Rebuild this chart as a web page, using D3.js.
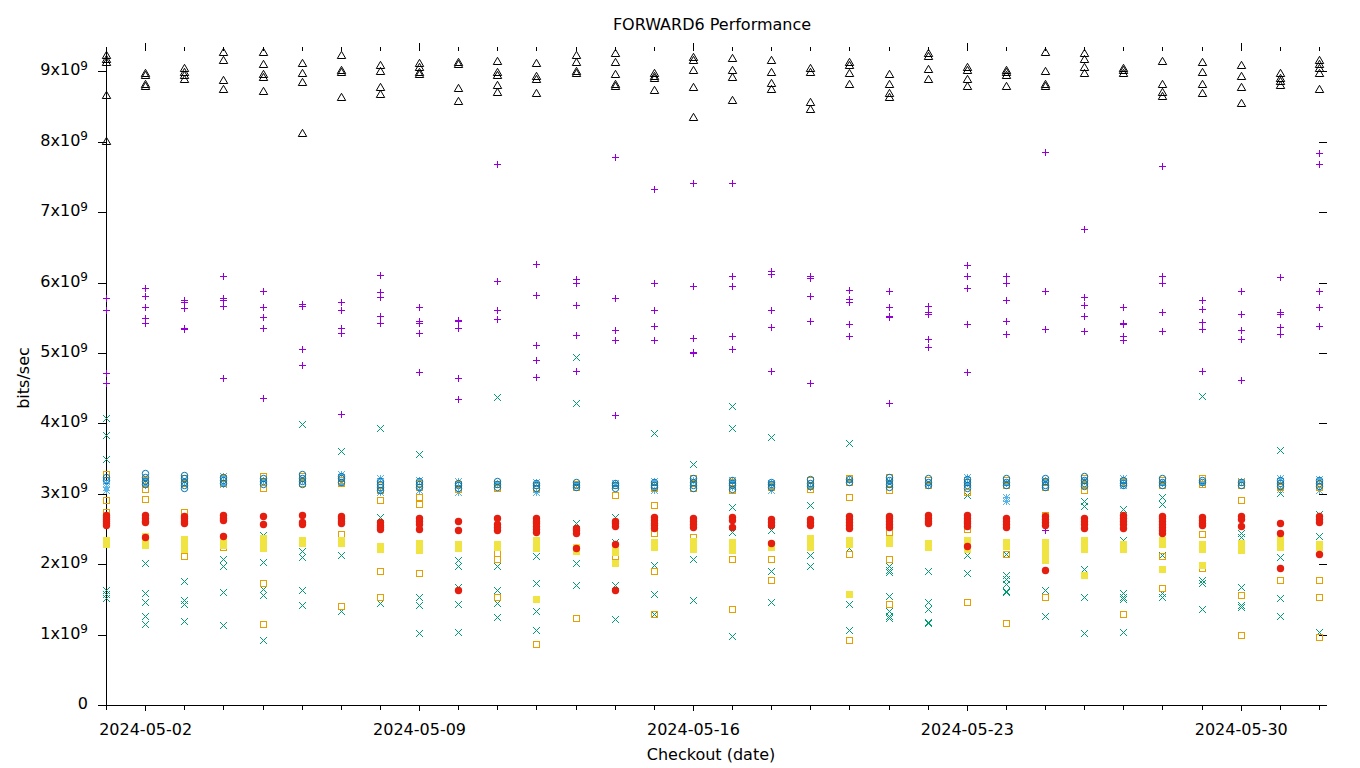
<!DOCTYPE html>
<html>
<head>
<meta charset="utf-8">
<script src="https://cdn.jsdelivr.net/npm/d3@7"></script>
<style>
  body { margin: 0; background: #fff; }
  text { font-family: "DejaVu Sans", sans-serif; fill: #000; }
</style>
</head>
<body>
<svg id="chart" width="1360" height="768"></svg>
<script>
// ---------------- data (values in units of 1e9 bits/sec) ----------------
const days = ["2024-05-01","2024-05-02","2024-05-03","2024-05-04","2024-05-05","2024-05-06","2024-05-07","2024-05-08",
  "2024-05-09","2024-05-10","2024-05-11","2024-05-12","2024-05-13","2024-05-14","2024-05-15","2024-05-16",
  "2024-05-17","2024-05-18","2024-05-19","2024-05-20","2024-05-21","2024-05-22","2024-05-23","2024-05-24",
  "2024-05-25","2024-05-26","2024-05-27","2024-05-28","2024-05-29","2024-05-30","2024-05-31","2024-06-01"];
const xTickLabels = ["2024-05-02","2024-05-09","2024-05-16","2024-05-23","2024-05-30"];
const yTickValues = [0,1,2,3,4,5,6,7,8,9];

const purplePlus = [
  [5.78,5.61,4.72,4.58],[5.93,5.81,5.65,5.50,5.43],[5.76,5.72,5.64,5.35,5.34],[6.09,5.78,5.75,5.67,4.65],
  [5.88,5.65,5.51,5.35,4.36],[5.70,5.67,5.05,4.83],[5.73,5.61,5.35,5.29,4.13],[6.11,5.87,5.80,5.53,5.42],
  [5.65,5.46,5.43,5.29,4.73],[5.47,5.45,5.35,4.65,4.34],[7.69,6.02,5.61,5.49],[6.26,5.82,5.12,4.90,4.66],
  [6.05,5.99,5.68,5.25,4.75],[7.78,5.78,5.33,5.19,4.12],[7.33,6.00,5.61,5.39,5.19],[7.42,5.95,5.22,5.01,5.00],
  [7.42,6.09,5.95,5.24,5.05],[6.16,6.12,5.61,5.37,4.75],[6.09,6.06,5.81,5.45,4.58],[5.90,5.77,5.73,5.41,5.24],
  [5.88,5.65,5.53,5.51,4.29],[5.67,5.58,5.56,5.20,5.09],[6.25,6.09,5.92,5.41,4.73],[6.10,5.99,5.75,5.45,5.27],
  [7.86,5.88,5.34,2.49],[6.76,5.79,5.68,5.52,5.31],[5.66,5.43,5.41,5.24,5.18],[7.65,6.10,5.99,5.58,5.31],
  [5.75,5.62,5.44,5.34,4.75],[5.88,5.56,5.33,5.20,4.61],[6.08,5.58,5.55,5.37,5.27],[7.84,7.69,5.88,5.66,5.38]];

const greenCross = [
  [4.07,3.83,3.49,1.64,1.58,1.52],[2.01,1.59,1.46,1.27,1.15],[1.76,1.49,1.43,1.20],[2.07,1.98,1.60,1.13],
  [2.42,2.03,1.65,1.56,0.93],[3.99,2.19,2.10,1.63,1.42],[3.61,2.13,1.33],[3.93,2.67,1.45],
  [3.56,1.54,1.42,1.02],[2.06,1.97,1.68,1.43,1.03],[4.37,1.98,1.64,1.45,1.25],[2.12,1.74,1.33,1.06],
  [4.94,4.29,2.58,2.01,1.71],[2.67,2.32,1.70,1.22],[3.87,3.05,1.99,1.57,1.29],[3.42,2.08,1.49],
  [4.25,3.93,2.81,2.46,0.98],[3.80,2.49,1.91,1.46],[2.84,2.13,1.98],[3.72,2.23,1.43,1.06],
  [1.97,1.92,1.89,1.55,1.33,1.27,1.23],[1.91,1.47,1.36,1.18,1.16],[2.98,2.13,1.88],[2.15,1.84,1.79,1.72,1.62,1.60],
  [1.63,1.27],[2.90,2.83,1.93,1.53,1.02],[2.79,2.34,1.59,1.54,1.50,1.03],[2.95,2.86,2.13,1.59,1.54],
  [4.39,1.78,1.74,1.37],[2.44,2.39,1.68,1.42,1.39],[3.62,3.01,2.10,1.52,1.26],[3.05,2.72,2.40,2.20,1.04]];

const lightBlueStar = [
  [3.15,3.10,3.05],[3.20,3.12],[3.18],[3.25,3.14],[3.20],[3.20],[3.28,3.15],[3.22,3.03],
  [3.20,3.05],[3.18,3.03],[3.15],[3.17,3.02],[3.14],[3.16],[3.18,3.06],[3.20],
  [3.19,3.10],[3.15,3.05],[3.10],[3.19],[3.18],[3.14],[3.24,3.15],[3.15,2.95,2.90],
  [3.20],[3.18],[3.23,3.13],[3.16],[3.15],[3.18],[3.23,3.07],[3.21,3.06]];

const orangeSquare = [
  [3.28,2.91,2.74],[3.20,3.15,3.07,2.92],[3.22,3.16,2.74,2.11],[3.22,3.16,2.25],
  [3.25,3.17,3.08,1.74,1.15],[3.26,3.15],[3.20,3.15,2.43,1.40],[3.12,3.06,2.91,1.91,1.54],
  [3.15,3.10,2.95,2.86,1.87],[3.14,3.07],[3.14,3.08,2.16,2.08,1.53],[3.12,3.08,0.86],
  [3.14,3.09,1.23],[3.12,2.98,2.11],[3.13,3.08,2.84,2.44,1.90,1.29],[3.22,3.15,3.08,2.39],
  [3.17,3.06,2.08,1.37],[3.13,3.10,2.08,1.77],[3.20,3.12,3.07],[3.22,3.17,2.96,2.15,0.93],
  [3.24,3.15,3.05,2.46,2.07,1.43],[3.20,3.12],[3.17,3.02,2.50,1.46],[3.20,3.12,2.15,1.16],
  [3.17,3.10,2.70,1.53],[3.22,3.13,3.05],[3.17,1.29],[3.20,3.13,2.12,1.66],
  [3.22,3.14,2.43,1.94],[3.17,3.12,2.91,1.56,0.99],[3.12,3.10,1.77],[3.14,3.10,1.77,1.53,0.96]];

const yellowSquare = [
  [2.34,2.31,2.28],[2.40,2.35,2.31,2.27],[2.36,2.31,2.26,2.21],[2.35,2.31,2.27],
  [2.37,2.33,2.28,2.23],[2.35,2.30],[2.35,2.30],[2.26,2.21],
  [2.30,2.25,2.20],[2.29,2.23],[2.29,2.24],[2.35,2.29,2.23,1.50],
  [2.25,2.19],[2.24,2.18,2.02],[2.31,2.25],[2.33,2.27,2.21],
  [2.31,2.25,2.20],[2.28,2.24],[2.37,2.31,2.25],[2.34,2.29,1.57],
  [2.36,2.30],[2.30,2.24],[2.35,2.28,2.22],[2.32,2.26],
  [2.32,2.27,2.22,2.16,2.10,2.06],[2.34,2.28,2.22,1.84],[2.28,2.22],[2.34,2.29,1.93],
  [2.28,2.22,1.99],[2.30,2.24,2.20],[2.36,2.30,2.24],[2.29,2.24]];

const blueCircle = [
  [3.24,3.20],[3.30,3.24,3.18,3.14],[3.27,3.22,3.17,3.12,3.08],[3.24,3.20,3.16],
  [3.22,3.18,3.14],[3.28,3.23,3.18,3.14],[3.26,3.22,3.17],[3.18,3.14,3.10,3.06],
  [3.18,3.14,3.10],[3.16,3.12,3.08],[3.18,3.14,3.10],[3.15,3.12,3.08],
  [3.17,3.13,3.10],[3.16,3.12,3.08],[3.17,3.13,3.09],[3.22,3.17,3.12,3.08],
  [3.20,3.16,3.12,3.07],[3.17,3.14,3.10],[3.21,3.16,3.11],[3.21,3.17],
  [3.24,3.19,3.14,3.09],[3.22,3.17,3.13],[3.21,3.17,3.12,3.08],[3.22,3.17,3.13],
  [3.23,3.18,3.13,3.09],[3.25,3.20,3.15,3.11],[3.20,3.16,3.13],[3.22,3.17,3.13],
  [3.20,3.17],[3.17,3.13],[3.19,3.15,3.11],[3.19,3.15,3.11]];

const redDot = [
  [2.70,2.67,2.64,2.61,2.58,2.56],[2.70,2.66,2.62,2.60,2.38],[2.68,2.65,2.62,2.59],[2.70,2.66,2.63,2.40],
  [2.69,2.57],[2.70,2.60,2.57],[2.69,2.65,2.61,2.58],[2.60,2.56,2.53,2.50],
  [2.66,2.62,2.57,2.50],[2.62,2.49,1.63],[2.65,2.57,2.53,2.49],[2.66,2.62,2.58,2.54,2.50,2.46],
  [2.52,2.48,2.44,2.23],[2.62,2.58,2.54,2.28,1.63],[2.67,2.63,2.59,2.55,2.51],[2.65,2.61,2.57,2.53],
  [2.67,2.63,2.53],[2.64,2.60,2.56,2.30],[2.64,2.60,2.56],[2.69,2.64,2.60,2.56,2.52],
  [2.69,2.65,2.61,2.57,2.53],[2.70,2.66,2.62,2.58],[2.70,2.66,2.62,2.58,2.54,2.26],[2.65,2.61,2.57,2.53],
  [2.69,2.64,2.60,2.56,1.92],[2.65,2.61,2.57,2.52],[2.70,2.65,2.61,2.57,2.52],[2.69,2.65,2.61,2.57,2.53,2.48,2.45],
  [2.67,2.63,2.59,2.55],[2.68,2.64,2.54],[2.59,2.45,1.94],[2.68,2.64,2.60,2.15]];

const blackTriangle = [
  [9.23,9.17,9.13,8.66,8.01],[8.98,8.95,8.82,8.79],[9.05,8.99,8.95,8.89],[9.27,9.16,8.88,8.75],
  [9.27,9.10,8.96,8.92,8.72],[9.12,8.98,8.85,8.12],[9.24,9.02,8.99,8.64],[9.09,9.00,8.78,8.68],
  [9.12,9.06,8.99,8.96],[9.13,9.10,8.76,8.58],[9.15,8.99,8.95,8.81,8.71],[9.12,8.93,8.89,8.69],
  [9.24,9.13,9.00,8.98],[9.26,9.13,8.96,8.82,8.79],[8.98,8.93,8.91,8.74],[9.20,9.16,9.02,8.78,8.35],
  [9.19,9.02,8.92,8.59],[9.16,8.99,8.84,8.75],[9.05,8.99,8.57,8.47],[9.13,9.09,8.98,8.82],
  [8.96,8.82,8.69,8.64],[9.26,9.22,9.03,8.89],[9.06,9.02,8.89,8.79],[9.02,8.99,8.95,8.79],
  [9.28,9.00,8.82,8.79],[9.26,9.18,9.06,8.98],[9.05,9.02,8.98],[9.15,8.82,8.71,8.65],
  [9.13,8.99,8.82,8.69],[9.09,8.93,8.78,8.55],[8.98,8.91,8.86,8.81],[9.16,9.10,9.05,8.98,8.75]];

// ---------------- layout ----------------
const svg = d3.select("#chart");
const W = 1360, H = 768;
const M = {left: 106, right: 1319, top: 51, bottom: 705};
const parse = d3.utcParse("%Y-%m-%d");
const dates = days.map(parse);

const x = d3.scaleUtc().domain([dates[0], dates[dates.length - 1]]).range([M.left, M.right]);
const y = d3.scaleLinear().domain([0, 9.29]).range([M.bottom, M.top]);

svg.append("rect").attr("width", W).attr("height", H).attr("fill", "#fff");

// shapes
const S = 3.5;
const shapes = {
  plus: `M${-S},0H${S}M0,${-S}V${S}`,
  cross: `M${-S},${-S}L${S},${S}M${-S},${S}L${S},${-S}`,
  star: `M${-S},0H${S}M0,${-S}V${S}M${-S},${-S}L${S},${S}M${-S},${S}L${S},${-S}`,
  square: `M-3,-3h6v6h-6Z`,
  fsquare: `M-3.5,-3.5h7v7h-7Z`,
  circle: d3.arc()({innerRadius: 0, outerRadius: 3.2, startAngle: 0, endAngle: 2 * Math.PI}),
  dot: d3.arc()({innerRadius: 0, outerRadius: 3.7, startAngle: 0, endAngle: 2 * Math.PI}),
  triangle: `M0,-4.2L4.2,3.0L-4.2,3.0Z`
};

const series = [
  {data: purplePlus,    color: "#9400d3", shape: "plus",     filled: false, crisp: true},
  {data: greenCross,    color: "#009e73", shape: "cross",    filled: false, crisp: false},
  {data: lightBlueStar, color: "#56b4e9", shape: "star",     filled: false, crisp: false},
  {data: orangeSquare,  color: "#e69f00", shape: "square",   filled: false, crisp: true},
  {data: yellowSquare,  color: "#f0e442", shape: "fsquare",  filled: true,  crisp: true},
  {data: blueCircle,    color: "#0072b2", shape: "circle",   filled: false, crisp: false},
  {data: redDot,        color: "#e51e10", shape: "dot",      filled: true,  crisp: false},
  {data: blackTriangle, color: "#000000", shape: "triangle", filled: false, crisp: false}
];

// ---------------- axes ----------------
const axisG = svg.append("g").attr("shape-rendering", "crispEdges");
const font = "16px";

// bottom axis line + left axis line
axisG.append("line").attr("x1", M.left).attr("x2", 1327).attr("y1", M.bottom + 0.5).attr("y2", M.bottom + 0.5)
  .attr("stroke", "#000").attr("stroke-width", 1);
axisG.append("line").attr("x1", M.left + 0.5).attr("x2", M.left + 0.5).attr("y1", M.bottom).attr("y2", 48)
  .attr("stroke", "#000").attr("stroke-width", 1);

const majorDates = xTickLabels.map(parse);

// bottom minor ticks (daily)
const bMinor = d3.axisBottom(x).tickValues(dates).tickSize(5).tickFormat("");
axisG.append("g").attr("transform", `translate(0,${M.bottom})`).call(bMinor).call(g => g.select(".domain").remove());
// bottom major ticks + labels
const bMajor = d3.axisBottom(x).tickValues(majorDates).tickSize(6).tickPadding(13)
  .tickFormat(d3.utcFormat("%Y-%m-%d"));
axisG.append("g").attr("transform", `translate(0,${M.bottom})`).call(bMajor)
  .call(g => g.select(".domain").remove())
  .call(g => g.selectAll("text").attr("font-size", font).attr("font-family", "DejaVu Sans").attr("fill", "#000"));

// top mirror ticks
const tMinor = d3.axisTop(x).tickValues(dates).tickSize(4).tickFormat("");
axisG.append("g").attr("transform", `translate(0,${M.top})`).call(tMinor).call(g => g.select(".domain").remove());
const tMajor = d3.axisTop(x).tickValues(majorDates).tickSize(8).tickFormat("");
axisG.append("g").attr("transform", `translate(0,${M.top})`).call(tMajor).call(g => g.select(".domain").remove());

// left axis
const yAxis = d3.axisLeft(y).tickValues(yTickValues).tickSize(8).tickPadding(10).tickFormat(d => d);
axisG.append("g").attr("transform", `translate(${M.left},0)`).call(yAxis)
  .call(g => g.select(".domain").remove())
  .call(g => g.selectAll(".tick text").each(function(d) {
    const t = d3.select(this);
    t.text(null).attr("font-size", font).attr("font-family", "DejaVu Sans").attr("fill", "#000").attr("dy", "0.22em");
    if (d === 0) { t.text("0"); return; }
    t.append("tspan").text(d + "x10");
    t.append("tspan").attr("dy", "-0.45em").attr("font-size", "12px").text("9");
  }));

// right mirror ticks
const yRight = d3.axisRight(y).tickValues(yTickValues.slice(1)).tickSize(8).tickFormat("");
axisG.append("g").attr("transform", `translate(${M.right},0)`).call(yRight).call(g => g.select(".domain").remove());

// ---------------- points ----------------
const pts = svg.append("g");
series.forEach(s => {
  const flat = [];
  s.data.forEach((vals, i) => vals.forEach(v => flat.push({d: dates[i], v})));
  pts.append("g").attr("shape-rendering", s.crisp ? "crispEdges" : "auto")
    .selectAll("path").data(flat).join("path")
    .attr("d", shapes[s.shape])
    .attr("transform", p => `translate(${Math.round(x(p.d)) + 0.5},${Math.round(y(p.v)) + 0.5})`)
    .attr("fill", s.filled ? s.color : "none")
    .attr("stroke", s.filled ? "none" : s.color)
    .attr("stroke-width", 1);
});

// ---------------- titles ----------------
svg.append("text").attr("x", 712).attr("y", 30).attr("text-anchor", "middle").attr("font-size", font)
  .text("FORWARD6 Performance");
svg.append("text").attr("x", 711).attr("y", 760).attr("text-anchor", "middle").attr("font-size", font)
  .text("Checkout (date)");
svg.append("text").attr("transform", "translate(29,378) rotate(-90)").attr("text-anchor", "middle").attr("font-size", font)
  .text("bits/sec");
</script>
</body>
</html>
